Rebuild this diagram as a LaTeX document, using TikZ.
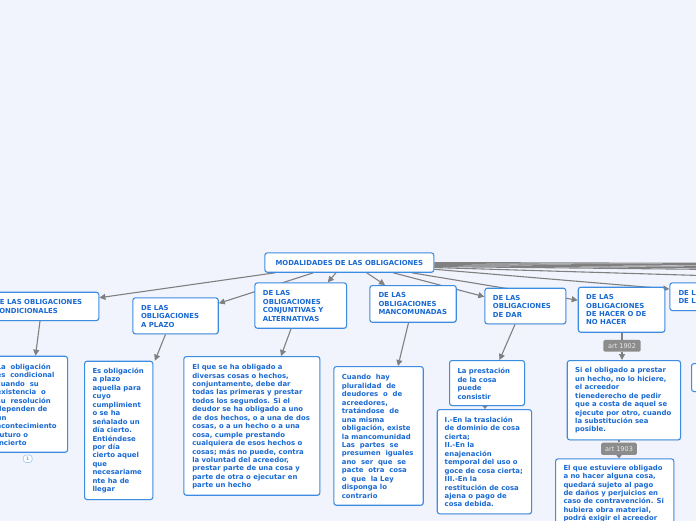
\documentclass[tikz,border=0pt]{standalone}
\usepackage{fontspec}
\setmainfont{DejaVu Sans}
\usetikzlibrary{arrows.meta,calc,shadows}
\pgfdeclarelayer{back}
\pgfdeclarelayer{lines}
\pgfsetlayers{back,lines,main}
\definecolor{bgc}{RGB}{241,244,253}
\definecolor{boxline}{RGB}{60,140,225}
\definecolor{txtc}{RGB}{25,105,210}
\definecolor{conc}{RGB}{128,128,128}
\definecolor{lblc}{RGB}{140,140,140}
\tikzset{
 box/.style={draw=boxline, line width=1.1pt, fill=white, rounded corners=2.5pt, anchor=north west, inner sep=0pt,
   drop shadow={opacity=0.12, shadow xshift=0.6pt, shadow yshift=-0.9pt}},
 txt/.style={anchor=west, align=left, inner sep=0pt, text=txtc, font=\fontsize{6.9}{8.45}\selectfont\bfseries},
 conn/.style={draw=conc, line width=1.1pt, -{Triangle[length=6pt,width=6pt]}},
 tinyconn/.style={draw=conc, line width=1.1pt, -{Triangle[length=3.5pt,width=5.5pt]}},
 plainconn/.style={draw=conc, line width=1.1pt},
 artlbl/.style={fill=lblc, rounded corners=1.5pt, text=white!92!black, font=\fontsize{6.5}{7}\selectfont, inner sep=0pt},
}
\begin{document}
\begin{tikzpicture}[x=1pt,y=-1pt]
\useasboundingbox (0,0) rectangle (696,520);
\begin{pgfonlayer}{back}
\fill[bgc] (-20,-20) rectangle (716,540);
\end{pgfonlayer}

% header boxes
\node[box, minimum width=169pt, minimum height=19.4pt] (root) at (264.3,252.3) {};
\node[txt, anchor=center, align=center] (rootT) at (root.center) {MODALIDADES DE LAS OBLIGACIONES};

\node[box, minimum width=112.3pt, minimum height=28.3pt] (cond) at (-14,291.7) {};
\node[txt] (condT) at ($(cond.west)+(8,0)$) {DE LAS OBLIGACIONES\\CONDICIONALES};

\node[box, minimum width=85.4pt, minimum height=36pt] (plazo) at (132.3,297.3) {};
\node[txt] (plazoT) at ($(plazo.west)+(8.6,0.6)$) {DE LAS\\OBLIGACIONES\\A PLAZO};

\node[box, minimum width=91.7pt, minimum height=45.4pt] (conj) at (254.3,282.3) {};
\node[txt] (conjT) at ($(conj.west)+(8.4,0.3)$) {DE LAS\\OBLIGACIONES\\CONJUNTIVAS Y\\ALTERNATIVAS};

\node[box, minimum width=86.4pt, minimum height=36.7pt] (manc) at (369.3,285) {};
\node[txt] (mancT) at ($(manc.west)+(9,0)$) {DE LAS\\OBLIGACIONES\\MANCOMUNADAS};

\node[box, minimum width=81pt, minimum height=35.6pt] (dar) at (484.3,287.7) {};
\node[txt] (darT) at ($(dar.west)+(8.4,0)$) {DE LAS\\OBLIGACIONES\\DE DAR};

\node[box, minimum width=86.6pt, minimum height=45pt] (hacer) at (577.7,286.7) {};
\node[txt] (hacerT) at ($(hacer.west)+(8.3,0)$) {DE LAS\\OBLIGACIONES\\DE HACER O DE\\NO HACER};

\node[box, minimum width=80pt, minimum height=27.7pt] (neight) at (669.3,282.3) {};
\node[txt] (neightT) at ($(neight.west)+(9,0.4)$) {DE LAS\\DE LAS};

% child boxes
\node[box, minimum width=79pt, minimum height=96pt] (condC) at (-12,355.7) {};
\node[txt] (condCT) at ($(condC.west)+(8.5,0.6)$) {La~~obligación\\es~~condicional\\cuando~~su\\existencia~~o\\su~~resolución\\dependen de\\un\\acontecimiento\\futuro o\\incierto};
\node[draw=boxline!45, fill=white, rounded corners=3pt, line width=0.7pt, minimum width=9pt, minimum height=7.5pt, inner sep=0pt, text=txtc!60, font=\fontsize{4.5}{5}\selectfont\bfseries] (badge) at (27.7,458.7) {1};

\node[box, minimum width=68.3pt, minimum height=138.3pt] (plazoC) at (84,360.7) {};
\node[txt] (plazoCT) at ($(plazoC.west)+(8.3,0.2)$) {Es obligación\\a plazo\\aquella para\\cuyo\\cumplimient\\o se ha\\señalado un\\día cierto.\\Entiéndese\\por día\\cierto aquel\\que\\necesariame\\nte ha de\\llegar};

\node[box, minimum width=136pt, minimum height=138.7pt] (conjC) at (183.3,356) {};
\node[txt] (conjCT) at ($(conjC.west)+(8.8,0.9)$) {El que se ha obligado a\\diversas cosas o hechos,\\conjuntamente, debe dar\\todas las primeras y prestar\\todos los segundos. Si el\\deudor se ha obligado a uno\\de dos hechos, o a una de dos\\cosas, o a un hecho o a una\\cosa, cumple prestando\\cualquiera de esos hechos o\\cosas; más no puede, contra\\la voluntad del acreedor,\\prestar parte de una cosa y\\parte de otra o ejecutar en\\parte un hecho};

\node[box, minimum width=89.4pt, minimum height=138.7pt] (mancC) at (333.3,366) {};
\node[txt] (mancCT) at ($(mancC.west)+(8.4,0.6)$) {Cuando~~hay\\pluralidad~~de\\deudores~~o~~de\\acreedores,\\tratándose~~de\\una misma\\obligación, existe\\la mancomunidad\\Las~~partes~~se\\presumen~~iguales\\ano~~ser~~que~~se\\pacte~~otra~~cosa\\o~~que~~la Ley\\disponga lo\\contrario};

\node[box, minimum width=75pt, minimum height=45pt] (darCa) at (449,360) {};
\node[txt] (darCaT) at ($(darCa.west)+(8.3,0.8)$) {La prestación\\de la cosa\\puede\\consistir};

\node[box, minimum width=94.3pt, minimum height=104.3pt] (darCb) at (436.7,409) {};
\node[txt] (darCbT) at ($(darCb.west)+(7.8,0.3)$) {I.-En la traslación\\de dominio de cosa\\cierta;\\II.-En la\\enajenación\\temporal del uso o\\goce de cosa cierta;\\III.-En la\\restitución de cosa\\ajena o pago de\\cosa debida.};

\node[box, minimum width=113.3pt, minimum height=79.3pt] (hacerCa) at (566.7,360) {};
\node[txt] (hacerCaT) at ($(hacerCa.west)+(8.3,0.3)$) {Si el obligado a prestar\\un hecho, no lo hiciere,\\el acreedor\\tienederecho de pedir\\que a costa de aquel se\\ejecute por otro, cuando\\la substitución sea\\posible.};

\node[box, minimum width=118.3pt, minimum height=120pt] (hacerCb) at (555,458.3) {};
\node[txt] (hacerCbT) at ($(hacerCb.north west)+(8.3,43.8)$) {El que estuviere obligado\\a no hacer alguna cosa,\\quedará sujeto al pago\\de daños y perjuicios en\\caso de contravención. Si\\hubiera obra material,\\podrá exigir el acreedor\\que sea destruida a costa\\del obligado.};

\node[box, minimum width=60pt, minimum height=28pt] (nnine) at (691,363) {};

\node[artlbl, minimum width=37.4pt, minimum height=11.7pt] (artA) at (622,345.8) {art 1902};
\node[artlbl, minimum width=35.7pt, minimum height=12.3pt] (artB) at (619,448.8) {art 1903};

% end points of connectors leaving the picture
\coordinate (ea) at (700,263.3);
\coordinate (eb) at (700,264.8);
\coordinate (ec) at (700,266.3);
\coordinate (ed) at (700,267.8);
\coordinate (ee) at (700,269.3);
\coordinate (ef) at (700,275.5);

\begin{pgfonlayer}{lines}
\draw[conn] ($(root.south west)+(10.7,0)$) -- ($(cond.north east)+(0,6)$);
\draw[conn] ($(root.south west)+(49,0)$) -- ($(plazo.north east)+(0,6)$);
\draw[conn] ($(root.south west)+(71.7,0)$) -- ($(conj.north east)+(-19.3,0)$);
\draw[conn] ($(root.south west)+(102.4,0)$) -- ($(manc.north west)+(15.7,0)$);
\draw[conn] ($(root.south west)+(129,0)$) -- ($(dar.north west)+(0,9)$);
\draw[conn] ($(root.south west)+(147.4,0)$) -- ($(hacer.north west)+(0,13.5)$);
\draw[conn] ($(root.south east)+(0,-3.5)$) -- ($(neight.north west)+(0,6.7)$);
\draw[plainconn] ($(root.east)+(0,0)$) -- (ea);
\draw[plainconn] ($(root.east)+(0,1)$) -- (eb);
\draw[plainconn] ($(root.east)+(0,2)$) -- (ec);
\draw[plainconn] ($(root.east)+(0,3)$) -- (ed);
\draw[plainconn] ($(root.east)+(0,4)$) -- (ee);
\draw[plainconn] ($(root.east)+(0,5)$) -- (ef);

\draw[conn] ($(cond.south west)+(54,0)$) -- ($(condC.north west)+(47.5,0)$);
\draw[conn] ($(plazo.south west)+(33.2,0)$) -- ($(plazoC.north east)+(1.5,0)$);
\draw[conn] ($(conj.south west)+(36.7,0)$) -- ($(conjC.north west)+(97.7,0)$);
\draw[conn] ($(manc.south west)+(39.2,0)$) -- ($(mancC.north west)+(64.7,0)$);
\draw[conn] ($(dar.south west)+(30.7,0)$) -- ($(darCa.north west)+(50.5,0)$);
\draw[tinyconn] ($(darCa.south west)+(36,0)$) -- ($(darCb.north west)+(48.3,0)$);
\draw[plainconn] ($(hacer.south west)+(44.3,0)$) -- (artA.north);
\draw[conn] (artA.south) -- ($(hacerCa.north west)+(55.3,0)$);
\draw[plainconn] ($(hacerCa.south west)+(52.3,0)$) -- (artB.north);
\draw[tinyconn] (artB.south) -- ($(hacerCb.north west)+(64,0)$);
\end{pgfonlayer}
\end{tikzpicture}
\end{document}
